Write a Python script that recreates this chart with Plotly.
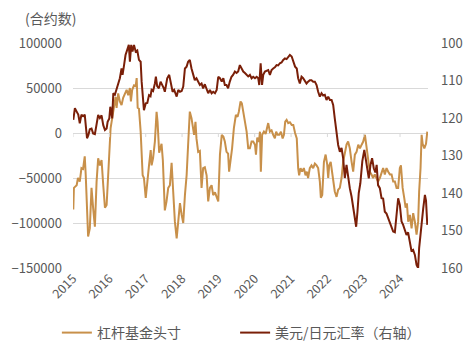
import plotly.graph_objects as go

years = [str(y) for y in range(2015, 2025)]

lev_dates = [
    "2015-01-04","2015-01-10","2015-02-07","2015-02-20","2015-03-10","2015-03-27","2015-04-12","2015-04-29",
    "2015-05-09","2015-05-22","2015-06-02","2015-06-19","2015-07-06","2015-07-22","2015-08-09","2015-08-26",
    "2015-09-11","2015-09-28","2015-10-15","2015-11-01","2015-11-18","2015-12-05","2015-12-15","2015-12-31",
    "2016-01-14","2016-01-30","2016-02-16","2016-03-04","2016-03-14","2016-03-30","2016-04-16","2016-05-03",
    "2016-05-19","2016-06-06","2016-06-23","2016-07-09","2016-07-26","2016-08-05","2016-08-18","2016-09-05",
    "2016-09-22","2016-10-02","2016-10-12","2016-10-25","2016-11-11","2016-12-01","2016-12-14","2017-01-01",
    "2017-01-17","2017-02-03","2017-02-20","2017-03-01","2017-03-16","2017-04-03","2017-04-20","2017-04-30",
    "2017-05-16","2017-06-09","2017-06-22","2017-07-12","2017-07-29","2017-08-15","2017-09-01","2017-09-18",
    "2017-10-04","2017-10-21","2017-11-08","2017-11-24","2017-12-11","2017-12-28","2018-01-13","2018-01-30",
    "2018-02-16","2018-03-03","2018-03-20","2018-04-06","2018-04-22","2018-05-02","2018-05-16","2018-05-26",
    "2018-06-12","2018-06-29","2018-07-16","2018-08-01","2018-08-18","2018-09-05","2018-09-21","2018-10-08",
    "2018-10-25","2018-11-10","2018-11-28","2018-12-15","2018-12-31","2019-01-17","2019-02-04","2019-02-20",
    "2019-03-07","2019-03-24","2019-04-09","2019-04-19","2019-05-03","2019-05-19","2019-06-06","2019-06-26",
    "2019-07-13","2019-07-26","2019-08-12","2019-08-25","2019-09-08","2019-09-25","2019-10-12","2019-10-28",
    "2019-11-14","2019-12-01","2019-12-17","2020-01-04","2020-01-14","2020-01-27","2020-02-13","2020-02-23",
    "2020-03-03","2020-03-16","2020-04-03","2020-04-20","2020-05-06","2020-05-16","2020-06-02","2020-06-19",
    "2020-07-05","2020-07-22","2020-08-04","2020-08-18","2020-09-04","2020-09-21","2020-10-08","2020-10-21",
    "2020-11-03","2020-11-17","2020-12-03","2020-12-20","2021-01-07","2021-01-23","2021-02-10","2021-02-27",
    "2021-03-13","2021-03-23","2021-04-06","2021-04-22","2021-05-09","2021-05-26","2021-06-08","2021-06-21",
    "2021-07-08","2021-07-25","2021-08-11","2021-08-28","2021-09-14","2021-09-30","2021-10-17","2021-10-27",
    "2021-11-10","2021-11-27","2021-12-14","2021-12-30","2022-01-09","2022-01-19","2022-02-03","2022-02-13",
    "2022-02-28","2022-03-16","2022-04-03","2022-04-19","2022-05-06","2022-05-23","2022-06-08","2022-06-25",
    "2022-07-12","2022-07-28","2022-08-14","2022-09-01","2022-09-17","2022-10-04","2022-10-21","2022-11-07",
    "2022-11-24","2022-12-11","2022-12-27","2023-01-13","2023-01-30","2023-02-16","2023-03-03","2023-03-20",
    "2023-04-05","2023-04-22","2023-05-09","2023-05-25","2023-06-12","2023-06-29","2023-07-15","2023-08-01",
    "2023-08-18","2023-09-04","2023-09-21","2023-10-08","2023-10-24","2023-11-10","2023-11-27","2023-12-13",
    "2023-12-30","2024-01-10","2024-01-27","2024-02-12","2024-02-26","2024-03-10","2024-03-23","2024-04-09",
    "2024-04-26","2024-05-12","2024-05-29","2024-06-15","2024-07-01","2024-07-11","2024-07-25","2024-08-05",
    "2024-08-15","2024-09-01","2024-09-18","2024-10-01",
]
lev_net = [
    -85000,-61000,-58000,-50000,-54000,-39000,-40000,-26000,
    -47000,-91000,-115000,-106000,-61000,-83000,-104000,-54000,
    -28000,-36000,-30000,-58000,-83000,-80000,-58000,-28000,
    5500,16500,31000,40000,28000,44000,35000,31000,
    39000,44000,48000,42000,50000,35000,48000,53000,
    52000,61000,28000,27000,1500,-47000,-50000,-72000,
    -50000,-36000,-19000,-36000,-28000,-9500,23500,12500,
    -22000,-12000,-30000,-86000,-76000,-61000,-58000,-33000,
    -65000,-98500,-117000,-98500,-78000,-91000,-100000,-69000,
    -47000,-13000,23700,16500,7000,-2000,12500,-6000,
    -21000,-20000,-61000,-39000,-38000,-47000,-76000,-61000,
    -58000,-69000,-66000,-72000,-76000,-24000,-2000,-4000,
    -9500,-21000,-23000,-43000,-32000,-17000,5500,20000,
    18000,23700,35000,33000,23700,12500,1500,-17000,
    -17000,-9500,-9500,-13000,-24000,-5000,-10000,1500,
    -43000,-2000,1500,-1000,9000,11000,1500,3000,
    -2000,-6000,1500,-2000,-2000,1500,-6000,-2000,
    12500,14500,11000,12000,9000,9000,0,-6000,
    -39000,-47000,-39000,-43000,-39000,-47000,-43000,-50000,
    -39000,-36000,-39000,-34000,-36000,-39000,-54000,-72000,
    -69000,-32000,-24000,-35000,-50000,-36000,-32000,-41000,
    -50000,-65000,-71000,-63000,-61000,-50000,-32000,-21000,
    -13000,-9500,-17000,-32000,-43000,-24000,-21000,-13000,
    -17000,-13000,-9500,-2000,-17000,-32000,-43000,-46000,
    -50000,-46000,-50000,-54000,-50000,-43000,-39000,-46000,
    -39000,-43000,-46000,-46000,-54000,-54000,-61000,-61000,
    -39000,-36000,-61000,-72000,-83000,-78000,-98500,-91000,
    -106000,-89000,-98500,-113000,-98500,-65000,-39000,-2000,
    -12000,-17000,-12000,1500,
]

fx_dates = [
    "2015-01-04","2015-01-20","2015-02-07","2015-02-23","2015-03-10","2015-03-27","2015-04-12","2015-04-29",
    "2015-05-09","2015-05-22","2015-06-05","2015-06-19","2015-07-06","2015-07-22","2015-08-09","2015-08-26",
    "2015-09-11","2015-09-28","2015-10-15","2015-11-01","2015-11-18","2015-12-05","2015-12-15","2016-01-01",
    "2016-01-11","2016-01-30","2016-02-10","2016-02-26","2016-03-14","2016-03-30","2016-04-16","2016-05-03",
    "2016-05-13","2016-05-26","2016-06-12","2016-06-28","2016-07-15","2016-07-26","2016-08-08","2016-08-21",
    "2016-09-05","2016-09-22","2016-10-08","2016-10-25","2016-11-11","2016-11-21","2016-12-07","2016-12-14",
    "2017-01-01","2017-01-17","2017-02-03","2017-02-18","2017-03-01","2017-03-16","2017-04-03","2017-04-13",
    "2017-04-26","2017-05-13","2017-05-30","2017-06-15","2017-07-02","2017-07-12","2017-08-05","2017-08-25",
    "2017-09-11","2017-09-28","2017-10-14","2017-11-08","2017-11-24","2017-12-11","2017-12-28","2018-01-13",
    "2018-01-30","2018-02-16","2018-03-03","2018-03-20","2018-04-06","2018-04-22","2018-05-09","2018-05-26",
    "2018-06-12","2018-06-29","2018-07-16","2018-08-01","2018-08-18","2018-09-05","2018-09-21","2018-10-08",
    "2018-10-25","2018-11-10","2018-11-28","2018-12-15","2018-12-31","2019-01-17","2019-02-04","2019-02-20",
    "2019-03-07","2019-03-24","2019-04-09","2019-04-26","2019-05-13","2019-05-29","2019-06-16","2019-07-03",
    "2019-07-19","2019-08-05","2019-08-22","2019-09-08","2019-09-25","2019-10-12","2019-10-28","2019-11-14",
    "2019-12-01","2019-12-17","2020-01-04","2020-01-21","2020-02-06","2020-02-16","2020-03-01","2020-03-15",
    "2020-03-27","2020-04-13","2020-04-29","2020-05-16","2020-06-02","2020-06-19","2020-07-05","2020-07-22",
    "2020-08-08","2020-08-24","2020-09-10","2020-09-27","2020-10-14","2020-10-31","2020-11-17","2020-12-03",
    "2020-12-20","2021-01-07","2021-01-23","2021-02-10","2021-02-27","2021-03-13","2021-03-30","2021-04-16",
    "2021-05-02","2021-05-19","2021-06-05","2021-06-21","2021-07-08","2021-07-25","2021-08-11","2021-08-28",
    "2021-09-14","2021-09-30","2021-10-17","2021-11-03","2021-11-19","2021-12-06","2021-12-23","2022-01-09",
    "2022-01-26","2022-02-12","2022-02-28","2022-03-16","2022-04-03","2022-04-19","2022-05-06","2022-05-23",
    "2022-06-08","2022-06-25","2022-07-12","2022-07-28","2022-08-14","2022-09-01","2022-09-17","2022-10-04",
    "2022-10-17","2022-10-30","2022-11-12","2022-11-28","2022-12-18","2023-01-07","2023-01-22","2023-02-06",
    "2023-02-21","2023-03-10","2023-03-26","2023-04-12","2023-04-28","2023-05-11","2023-05-25","2023-06-12",
    "2023-06-29","2023-07-15","2023-08-01","2023-08-18","2023-09-04","2023-09-21","2023-10-08","2023-10-24",
    "2023-11-10","2023-11-27","2023-12-13","2023-12-30","2024-01-16","2024-02-01","2024-02-18","2024-03-06",
    "2024-03-22","2024-04-09","2024-04-26","2024-05-12","2024-05-29","2024-06-15","2024-07-01","2024-07-11",
    "2024-07-25","2024-08-05","2024-08-21","2024-09-07","2024-09-18","2024-10-01",
]
usdjpy = [
    120.5,117.4,118.3,119.1,121.4,119.1,119.5,119.1,
    121.9,125.4,124.5,123.0,122.8,124.1,124.3,121.9,
    119.2,120.0,119.3,121.9,123.2,122.8,121.0,120.1,
    117.0,120.1,113.4,113.8,112.5,110.8,109.4,106.8,
    108.5,106.3,103.2,101.9,100.5,105.0,100.5,102.3,
    100.5,102.3,102.0,104.5,105.0,110.3,115.6,117.9,
    116.1,116.0,113.9,114.2,112.5,112.8,110.8,109.0,
    111.5,112.1,110.3,111.0,112.1,113.0,109.4,108.5,
    111.0,113.0,112.5,114.3,112.5,113.0,112.8,111.6,
    106.8,106.3,105.0,104.5,106.8,108.5,109.9,109.4,
    110.3,111.2,110.8,112.1,111.0,112.5,113.4,112.5,
    113.4,113.0,113.4,112.5,109.0,109.4,110.3,109.4,
    111.2,111.2,112.1,110.3,109.0,108.5,107.6,108.0,
    107.6,105.9,106.8,107.6,108.0,108.5,108.9,108.5,
    109.4,109.0,109.4,109.0,109.4,111.2,105.4,111.2,
    108.5,107.6,107.4,107.2,108.5,107.2,106.8,106.5,
    105.9,106.0,105.4,105.2,104.5,104.1,104.3,103.6,
    103.2,103.6,105.0,106.3,106.8,109.4,110.8,109.0,
    109.4,110.3,110.8,110.3,109.9,109.9,110.3,110.3,
    111.2,113.0,114.3,113.4,114.0,113.8,115.2,114.3,
    115.2,115.2,116.5,120.1,124.5,127.2,129.0,128.0,
    130.7,136.0,132.5,135.7,138.7,141.0,143.5,147.0,
    149.0,145.0,140.0,137.4,131.5,128.5,130.7,133.4,
    136.1,132.5,130.7,133.4,134.5,132.5,137.9,138.7,
    141.4,141.5,145.0,145.5,146.7,148.1,149.4,150.3,
    150.5,145.9,141.4,143.2,147.6,148.5,149.8,151.2,
    150.5,153.0,155.6,155.2,156.5,159.2,160.0,154.7,
    150.3,147.6,144.1,140.5,142.0,148.5,
]

tan = "#C8904A"
brown = "#7A1F08"
grey_text = "#595959"
font_family = "Noto Sans CJK SC, Noto Sans, sans-serif"

fig = go.Figure()
fig.add_trace(go.Scatter(x=lev_dates, y=lev_net, name="杠杆基金头寸", mode="lines",
                         line=dict(color=tan, width=2), yaxis="y", legend="legend"))
fig.add_trace(go.Scatter(x=fx_dates, y=usdjpy, name="美元/日元汇率（右轴）", mode="lines",
                         line=dict(color=brown, width=2), yaxis="y2", legend="legend2"))

# small tick marks on the zero line at each year start
for yr in years:
    fig.add_shape(type="line", xref="x", yref="y", x0=f"{yr}-01-01", x1=f"{yr}-01-01",
                  y0=0, y1=-4500, line=dict(color="#D9D9D9", width=1))

legend_common = dict(orientation="h", xanchor="left", yref="container", y=0.054,
                     yanchor="middle", font=dict(size=14, color=grey_text), itemwidth=30,
                     bgcolor="rgba(0,0,0,0)")

fig.update_layout(
    width=474, height=352,
    margin=dict(l=73, r=46, t=43, b=84, autoexpand=False),
    paper_bgcolor="white", plot_bgcolor="white",
    font=dict(family=font_family, size=13, color=grey_text),
    showlegend=True,
    legend=dict(xref="container", x=0.120, **legend_common),
    legend2=dict(xref="container", x=0.496, **legend_common),
    xaxis=dict(type="date", range=["2015-01-01", "2024-10-08"], automargin=False,
               tickvals=[f"{y}-01-01" for y in years], ticktext=years,
               tickangle=-45, showgrid=False, showline=False, zeroline=False,
               tickfont=dict(size=12.5, color=grey_text)),
    yaxis=dict(range=[-150000, 100000], dtick=50000, tickformat="d", automargin=False,
               showgrid=True, gridcolor="#D9D9D9", gridwidth=1, zeroline=False,
               showline=False, ticklabelstandoff=10, tickfont=dict(size=13, color=grey_text)),
    yaxis2=dict(range=[160, 100], dtick=10, overlaying="y", side="right", automargin=False,
                showgrid=False, zeroline=False, showline=False, ticklabelstandoff=12,
                tickfont=dict(size=13, color=grey_text)),
    annotations=[dict(text="(合约数)", xref="paper", yref="paper", x=-0.1408, y=1.111,
                      xanchor="left", yanchor="middle", showarrow=False,
                      font=dict(size=14, color=grey_text))],
)

fig.write_html("out.html")
